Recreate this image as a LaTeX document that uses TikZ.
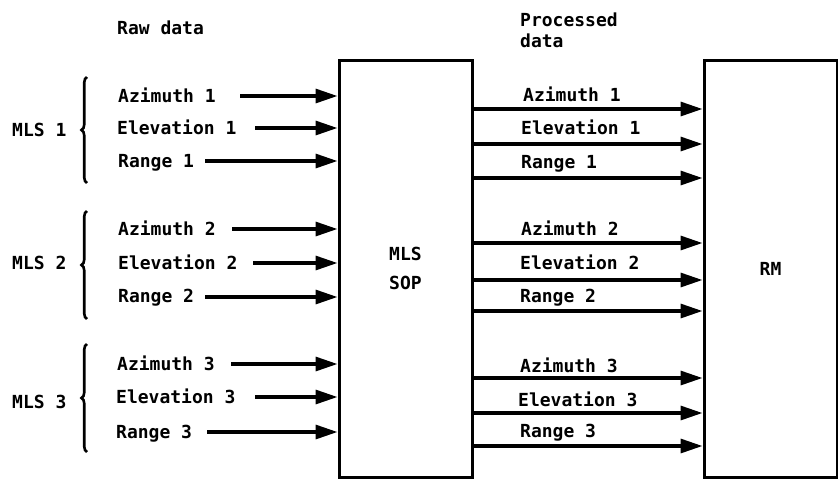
\documentclass[tikz,border=0pt]{standalone}
\usepackage{fontspec}
\newfontfamily\lblfont{DejaVu Sans Mono}[BoldFont={DejaVu Sans Mono Bold}]
\usetikzlibrary{arrows.meta,decorations.pathreplacing}
\begin{document}
\begin{tikzpicture}[x=1pt,y=-1pt,
  lbl/.style={anchor=base west,yshift=-6.5pt,inner sep=0pt,font=\lblfont\bfseries\fontsize{18}{21}\selectfont},
  blk/.style={draw,line width=3pt,minimum width=133pt,minimum height=417pt,inner sep=0pt,align=center,
     font=\lblfont\bfseries\fontsize{18}{29}\selectfont},
  arr/.style={line width=3.2pt,-{Triangle[length=22pt,width=14pt]}},
  brc/.style={line width=2.6pt,decorate,decoration={brace,amplitude=5.5pt}}]
\useasboundingbox (0,0) rectangle (838,480);
% boxes
\node[blk] (sop) at (405.5,268.5) {MLS\\SOP};
\node[blk] (rm) at (770.5,268.5) {RM};
% headers
\node[lbl] (raw) at (117,28) {Raw data};
\node[lbl,anchor=north west,yshift=0pt,align=left] (proc) at (520,6) {Processed\\data};
% group labels
\node[lbl] (mls1) at (12,130) {MLS 1};
\node[lbl] (mls2) at (12,263) {MLS 2};
\node[lbl] (mls3) at (12,402) {MLS 3};
\coordinate (b1a) at (87,183); \coordinate (b1b) at (87,77);
\coordinate (b2a) at (87,319); \coordinate (b2b) at (87,211);
\coordinate (b3a) at (87,452); \coordinate (b3b) at (87,344);
\draw[brc] (b1a) -- (b1b);
\draw[brc] (b2a) -- (b2b);
\draw[brc] (b3a) -- (b3b);
% input labels
\node[lbl] (ai1) at (118,96) {Azimuth 1};
\node[lbl] (ei1) at (117,128) {Elevation 1};
\node[lbl] (ri1) at (118,161) {Range 1};
\node[lbl] (ai2) at (118,229) {Azimuth 2};
\node[lbl] (ei2) at (118,263) {Elevation 2};
\node[lbl] (ri2) at (118,296) {Range 2};
\node[lbl] (ai3) at (117,364) {Azimuth 3};
\node[lbl] (ei3) at (116,397) {Elevation 3};
\node[lbl] (ri3) at (116,432) {Range 3};
% input arrow starts
\coordinate (sa1) at (240,96);
\coordinate (se1) at (255,128);
\coordinate (sr1) at (205,161);
\coordinate (sa2) at (232,229);
\coordinate (se2) at (253,263);
\coordinate (sr2) at (205,297);
\coordinate (sa3) at (231,364);
\coordinate (se3) at (255,397);
\coordinate (sr3) at (207,432);
\foreach \s in {sa1,se1,sr1,sa2,se2,sr2,sa3,se3,sr3}
  \draw[arr] (\s) -- (sop.west |- \s);
% output labels
\node[lbl] (ao1) at (523,95) {Azimuth 1};
\node[lbl] (eo1) at (521,128) {Elevation 1};
\node[lbl] (ro1) at (521,162) {Range 1};
\node[lbl] (ao2) at (521,229) {Azimuth 2};
\node[lbl] (eo2) at (520,263) {Elevation 2};
\node[lbl] (ro2) at (520,296) {Range 2};
\node[lbl] (ao3) at (520,366) {Azimuth 3};
\node[lbl] (eo3) at (518,400) {Elevation 3};
\node[lbl] (ro3) at (520,431) {Range 3};
% output arrow rows
\coordinate (oa1) at (600,109);
\coordinate (oe1) at (600,144);
\coordinate (or1) at (600,178);
\coordinate (oa2) at (600,243);
\coordinate (oe2) at (600,280);
\coordinate (or2) at (600,311);
\coordinate (oa3) at (600,378);
\coordinate (oe3) at (600,413);
\coordinate (or3) at (600,446);
\foreach \o in {oa1,oe1,or1,oa2,oe2,or2,oa3,oe3,or3}
  \draw[arr] (sop.east |- \o) -- (rm.west |- \o);
\end{tikzpicture}
\end{document}
